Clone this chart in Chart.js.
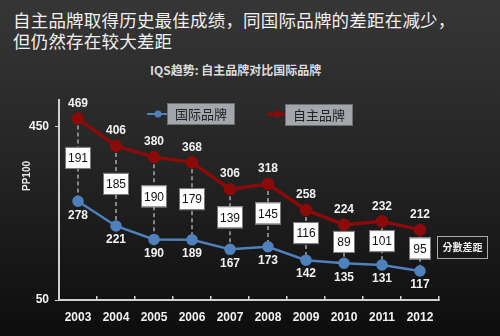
<!DOCTYPE html>
<html>
<head>
<meta charset="utf-8">
<script src="https://cdn.jsdelivr.net/npm/chart.js@4"></script>
<style>
  html, body { margin: 0; padding: 0; }
  body {
    width: 500px; height: 336px; overflow: hidden; position: relative;
    background: linear-gradient(#363636, #262626 45%, #0d0d0d);
    font-family: "Noto Sans CJK SC", sans-serif;
  }
  #title {
    position: absolute; left: 13px; top: 9px; color: #f0f0f0;
    font-size: 17.5px; line-height: 21px; letter-spacing: 0.2px;
  }
  #sub {
    position: absolute; left: 150px; top: 61px;
    color: #dcdcdc; font-size: 12px; font-weight: bold;
  }
  #wrap { position: absolute; left: 0; top: 0; width: 500px; height: 336px; }
</style>
</head>
<body>
<div id="title">自主品牌取得历史最佳成绩，同国际品牌的差距在减少，<br>但仍然存在较大差距</div>
<div id="sub">IQS趋势: 自主品牌对比国际品牌</div>
<div id="wrap"><canvas id="chart" width="500" height="336"></canvas></div>
<script>
const years = ['2003','2004','2005','2006','2007','2008','2009','2010','2011','2012'];
const domestic = [469, 406, 380, 368, 306, 318, 258, 224, 232, 212];
const international = [278, 221, 190, 189, 167, 173, 142, 135, 131, 117];
const gap = [191, 185, 190, 179, 139, 145, 116, 89, 101, 95];
const yTicks = [50, 450];

const numFont = 'bold 12px "Liberation Sans", Arial, sans-serif';

const overlay = {
    id: 'overlay',
    beforeDatasetsDraw(chart) {
        const ctx = chart.ctx;
        const red = chart.getDatasetMeta(1).data;
        const blue = chart.getDatasetMeta(0).data;
        ctx.save();
        ctx.strokeStyle = '#a8a8a8';
        ctx.lineWidth = 1.5;
        ctx.setLineDash([4, 3]);
        for (let i = 0; i < years.length; i++) {
            ctx.beginPath();
            ctx.moveTo(red[i].x, red[i].y);
            ctx.lineTo(blue[i].x, blue[i].y);
            ctx.stroke();
        }
        ctx.restore();
    },
    afterDatasetsDraw(chart) {
        const ctx = chart.ctx;
        const red = chart.getDatasetMeta(1).data;
        const blue = chart.getDatasetMeta(0).data;
        ctx.save();
        ctx.textAlign = 'center';
        ctx.textBaseline = 'middle';
        for (let i = 0; i < years.length; i++) {
            ctx.font = numFont;
            ctx.fillStyle = '#f2f2f2';
            ctx.fillText(domestic[i], red[i].x, red[i].y - 15);
            ctx.fillText(international[i], blue[i].x, blue[i].y + 14);
            // gap box
            const cy = (red[i].y + blue[i].y) / 2 - 2;
            const w = String(gap[i]).length > 2 ? 26 : 22;
            ctx.fillStyle = '#ffffff';
            ctx.strokeStyle = '#777';
            ctx.lineWidth = 1;
            ctx.fillRect(red[i].x - w / 2, cy - 11, w, 22);
            ctx.strokeRect(red[i].x - w / 2 + 0.5, cy - 10.5, w - 1, 21);
            ctx.fillStyle = '#111';
            ctx.font = '12px "Liberation Sans", Arial, sans-serif';
            ctx.fillText(gap[i], red[i].x, cy + 1);
        }
        ctx.restore();
    },
    afterDraw(chart) {
        const ctx = chart.ctx;
        ctx.save();
        // y axis title
        ctx.translate(27, 176);
        ctx.rotate(-Math.PI / 2);
        ctx.fillStyle = '#e8e8e8';
        ctx.font = 'bold 10px "Liberation Sans", Arial, sans-serif';
        ctx.textAlign = 'center';
        ctx.textBaseline = 'middle';
        ctx.fillText('PP100', 0, 0);
        ctx.restore();

        ctx.save();
        // legend: international
        ctx.strokeStyle = '#4f81bd';
        ctx.lineWidth = 2;
        ctx.beginPath(); ctx.moveTo(147, 114); ctx.lineTo(168, 114); ctx.stroke();
        ctx.fillStyle = '#4f81bd';
        ctx.beginPath(); ctx.arc(158, 114, 3.5, 0, Math.PI * 2); ctx.fill();
        ctx.fillStyle = '#a3a7ac';
        ctx.fillRect(167, 103, 68, 22);
        ctx.strokeStyle = '#6c6f73'; ctx.lineWidth = 1;
        ctx.strokeRect(167.5, 103.5, 67, 21);
        ctx.fillStyle = '#222';
        ctx.font = '13px "Noto Sans CJK SC", sans-serif';
        ctx.textAlign = 'center';
        ctx.textBaseline = 'middle';
        ctx.fillText('国际品牌', 201, 114);
        // legend: domestic
        ctx.strokeStyle = '#8b0a0a';
        ctx.lineWidth = 3;
        ctx.beginPath(); ctx.moveTo(267, 114); ctx.lineTo(285, 114); ctx.stroke();
        ctx.fillStyle = '#8b0a0a';
        ctx.beginPath(); ctx.arc(277, 114, 3.5, 0, Math.PI * 2); ctx.fill();
        ctx.fillStyle = '#a3a7ac';
        ctx.fillRect(285, 104, 68, 22);
        ctx.strokeStyle = '#6c6f73'; ctx.lineWidth = 1;
        ctx.strokeRect(285.5, 104.5, 67, 21);
        ctx.fillStyle = '#222';
        ctx.fillText('自主品牌', 319, 115);
        // gap note box
        ctx.strokeStyle = '#aaa';
        ctx.strokeRect(437.5, 236.5, 50, 22);
        ctx.fillStyle = '#f0f0f0';
        ctx.font = 'bold 10px "Noto Sans CJK TC", sans-serif';
        ctx.fillText('分數差距', 462.5, 247.5);
        ctx.restore();
    }
};

const ctx = document.getElementById('chart').getContext('2d');
new Chart(ctx, {
    type: 'line',
    data: {
        labels: years,
        datasets: [{
            label: '国际品牌',
            data: international,
            borderColor: '#4f81bd',
            backgroundColor: '#4f81bd',
            borderWidth: 2.5,
            pointRadius: 4.5,
            pointHoverRadius: 4.5,
            tension: 0,
            clip: false
        }, {
            label: '自主品牌',
            data: domestic,
            borderColor: '#8b0a0a',
            backgroundColor: '#8b0a0a',
            borderWidth: 3.5,
            pointRadius: 4.5,
            pointHoverRadius: 4.5,
            tension: 0,
            clip: false
        }]
    },
    options: {
        responsive: false,
        animation: false,
        events: [],
        layout: { padding: { left: 0, right: 61, top: 100, bottom: 0 } },
        plugins: {
            legend: { display: false },
            tooltip: { enabled: false }
        },
        scales: {
            x: {
                offset: true,
                grid: { display: true, drawOnChartArea: false, offset: true, tickLength: -4, color: '#d0d0d0', lineWidth: 1.5 },
                border: { color: '#d0d0d0', width: 2 },
                ticks: { color: '#f2f2f2', font: { family: '"Liberation Sans", Arial, sans-serif', size: 12, weight: 'bold' }, padding: 14 },
                afterFit(scale) { scale.height = 36; }
            },
            y: {
                min: 50,
                max: 512,
                afterBuildTicks(scale) { scale.ticks = yTicks.map(v => ({ value: v })); },
                grid: { display: true, drawOnChartArea: false, tickLength: 4, color: '#d0d0d0' },
                border: { color: '#d0d0d0', width: 2 },
                ticks: { color: '#f2f2f2', font: { family: '"Liberation Sans", Arial, sans-serif', size: 12, weight: 'bold' }, padding: 6 },
                afterFit(scale) { scale.width = 59; }
            }
        }
    },
    plugins: [overlay]
});
</script>
</body>
</html>
